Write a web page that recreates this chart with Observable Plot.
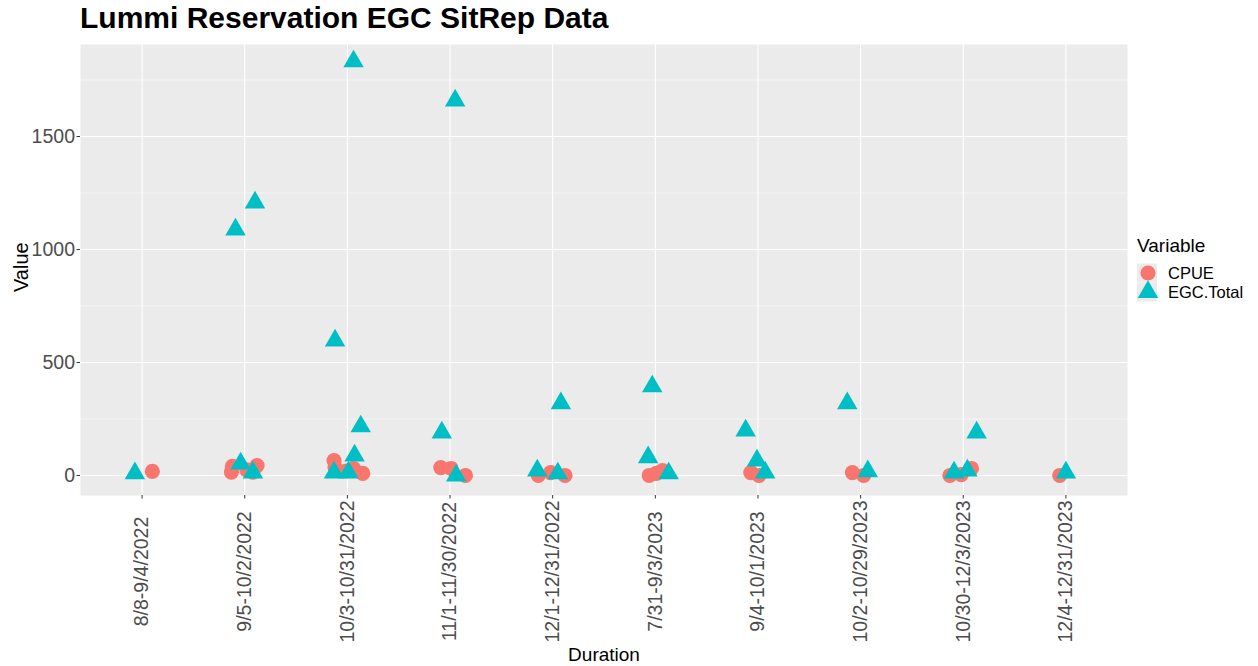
<!DOCTYPE html>
<html>
<head>
<meta charset="utf-8">
<script src="https://cdn.jsdelivr.net/npm/d3@7"></script>
<script src="https://cdn.jsdelivr.net/npm/@observablehq/plot@0.6"></script>
<style>
  html, body { margin: 0; padding: 0; background: #fff; }
  body { width: 1258px; height: 666px; position: relative; overflow: hidden; font-family: "Liberation Sans", Arial, sans-serif; }
  #title { position: absolute; left: 80px; top: 1px; font-size: 30px; font-weight: bold; color: #000; white-space: nowrap; }
  #chart { position: absolute; left: 0; top: 44px; }
  #legend { position: absolute; left: 1135px; top: 230px; }
</style>
</head>
<body>
<div id="title">Lummi Reservation EGC SitRep Data</div>
<div id="chart"></div>
<div id="legend"></div>
<script>
const categories = ["8/8-9/4/2022", "9/5-10/2/2022", "10/3-10/31/2022", "11/1-11/30/2022", "12/1-12/31/2022",
  "7/31-9/3/2023", "9/4-10/1/2023", "10/2-10/29/2023", "10/30-12/3/2023", "12/4-12/31/2023"];
const seriesNames = ["CPUE", "EGC.Total"];
const seriesColors = ["#F8766D", "#00BFC4"];

// jittered category positions (category index, 1-based, plus jitter) and values
const cpueX = [1.10, 1.87, 1.88, 2.12, 2.08, 2.02, 2.87, 2.88, 3.15, 3.06, 2.99, 3.91, 4.01, 4.15,
  4.86, 4.98, 5.12, 5.94, 6.01, 6.07, 6.93, 7.01, 7.92, 8.03, 8.87, 8.98, 9.08, 9.94];
const cpueY = [18, 15, 40, 44, 15, 25, 66, 35, 9, 30, 20, 35, 31, 0,
  0, 13, 0, 0, 9, 22, 13, 0, 13, 0, 0, 4, 31, 0];
const egcX = [0.93, 1.91, 2.10, 1.96, 2.08, 2.88, 3.06, 3.13, 3.07, 2.87, 3.01, 3.92, 4.05, 4.06,
  5.08, 4.85, 5.05, 5.97, 5.93, 6.13, 6.88, 6.99, 7.07, 7.87, 8.07, 9.13, 8.91, 9.04, 10.00];
const egcY = [10, 1088, 1208, 53, 13, 597, 1832, 217, 88, 13, 13, 190, 1659, 0,
  319, 22, 9, 394, 80, 9, 199, 66, 13, 319, 18, 190, 13, 22, 13];
const yTicks = [0, 500, 1000, 1500];
const yMinor = [250, 750, 1250, 1750];

const cpue = cpueX.map((x, i) => ({x, y: cpueY[i], v: "CPUE"}));
const egc = egcX.map((x, i) => ({x, y: egcY[i], v: "EGC.Total"}));
const catIdx = categories.map((c, i) => i + 1);

const plot = Plot.plot({
  width: 1258,
  height: 622,
  marginLeft: 80,
  marginRight: 131,
  marginTop: 0,
  marginBottom: 171,
  style: {fontFamily: "Liberation Sans, Arial, sans-serif", background: "transparent"},
  x: {type: "linear", domain: [0.4, 10.6], ticks: catIdx, tickFormat: d => categories[d - 1], label: null},
  y: {domain: [-88.5, 1907], label: null},
  color: {domain: seriesNames, range: seriesColors},
  symbol: {domain: seriesNames, range: ["circle", "triangle"]},
  marks: [
    Plot.frame({fill: "#EBEBEB", stroke: null}),
    Plot.gridY(yMinor, {stroke: "#fff", strokeOpacity: 1, strokeWidth: 0.55}),
    Plot.gridY(yTicks, {stroke: "#fff", strokeOpacity: 1, strokeWidth: 1.1}),
    Plot.gridX(catIdx, {stroke: "#fff", strokeOpacity: 1, strokeWidth: 1.1}),
    Plot.axisY(yTicks, {tickSize: 3.5, tickPadding: 2, fontSize: 19.5, fill: "#4D4D4D", stroke: "#333",
      tickFormat: d3.format("d"), label: null}),
    Plot.axisX(catIdx, {tickSize: 3.5, tickFormat: () => "", stroke: "#333", label: null}),
    Plot.text(catIdx, {x: d => d, frameAnchor: "bottom", dy: 76, rotate: -90, text: d => categories[d - 1],
      fontSize: 19.5, fill: "#4D4D4D", textAnchor: "middle", lineAnchor: "middle"}),
    Plot.dot(cpue, {x: "x", y: "y", fill: "v", symbol: "v", r: 7.6, stroke: null}),
    Plot.dot(egc, {x: "x", y: "y", fill: "v", symbol: "v", r: 7.6, stroke: null}),
    Plot.text(["Duration"], {frameAnchor: "bottom", dy: 165, fontSize: 19, fill: "#000", lineAnchor: "bottom"}),
    Plot.text(["Value"], {frameAnchor: "left", dx: -59, dy: 22, rotate: -90, fontSize: 20, fill: "#000"})
  ]
});
document.getElementById("chart").appendChild(plot);

// legend
const lg = d3.select("#legend").append("svg").attr("width", 123).attr("height", 80)
  .style("font-family", "Liberation Sans, Arial, sans-serif");
lg.append("text").attr("x", 2).attr("y", 22).attr("font-size", 19).attr("fill", "#000").text("Variable");
const symGen = [d3.symbol(d3.symbolCircle, Math.PI * 7.6 * 7.6), d3.symbol(d3.symbolTriangle, Math.PI * 7.6 * 7.6)];
seriesNames.forEach((name, i) => {
  const cy = 43 + i * 19;
  lg.append("rect").attr("x", 2).attr("y", cy - 9.5).attr("width", 20).attr("height", 19).attr("fill", "#EBEBEB");
  lg.append("path").attr("d", symGen[i]()).attr("transform", `translate(13,${cy})`).attr("fill", seriesColors[i]);
  lg.append("text").attr("x", 33).attr("y", cy + 6).attr("font-size", 16.5).attr("fill", "#000").text(name);
});
</script>
</body>
</html>
